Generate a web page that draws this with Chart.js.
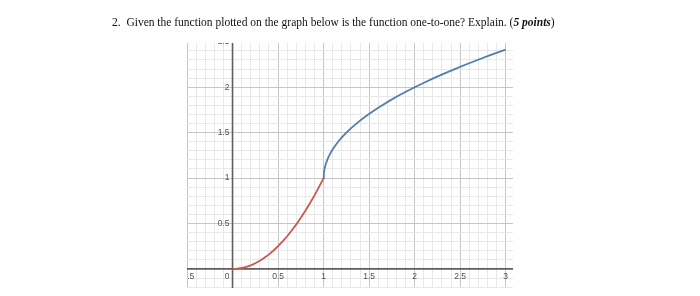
<!DOCTYPE html>
<html>
<head>
<meta charset="utf-8">
<script src="https://cdn.jsdelivr.net/npm/chart.js@4"></script>
<style>
  html, body { margin: 0; padding: 0; background: #fff; }
  #wrap { position: relative; width: 700px; height: 296px; }
  #title { position: absolute; left: 112px; top: 16px; font-family: "Liberation Serif", "Times New Roman", serif; font-size: 11.5px; color: #111; white-space: nowrap; }
  canvas { position: absolute; left: 0; top: 0; }
</style>
</head>
<body>
<div id="wrap">
  <canvas id="c" width="700" height="296"></canvas>
  <div id="title">2.&nbsp; Given the function plotted on the graph below is the function one-to-one? Explain. (<b><i>5 points</i></b>)</div>
</div>
<script>
// Red piece (0 <= x <= 1)
const redX = [0, 0.05, 0.1, 0.15, 0.2, 0.25, 0.3, 0.35, 0.4, 0.45, 0.5, 0.55, 0.6, 0.65, 0.7, 0.75, 0.8, 0.85, 0.9, 0.95, 1];
const redY = [0, 0.0025, 0.01, 0.0225, 0.04, 0.0625, 0.09, 0.1225, 0.16, 0.2025, 0.25, 0.3025, 0.36, 0.4225, 0.49, 0.5625, 0.64, 0.7225, 0.81, 0.9025, 1];
// Blue piece (1 <= x <= 3)
const blueX = [1, 1.0025, 1.01, 1.0225, 1.04, 1.0625, 1.09, 1.1225, 1.16, 1.2025, 1.25, 1.3025, 1.36, 1.4225, 1.49, 1.5625, 1.64, 1.7225, 1.81, 1.9025, 2, 2.1025, 2.21, 2.3225, 2.44, 2.5625, 2.69, 2.8225, 2.96, 3];
const blueY = [1, 1.05, 1.1, 1.15, 1.2, 1.25, 1.3, 1.35, 1.4, 1.45, 1.5, 1.55, 1.6, 1.65, 1.7, 1.75, 1.8, 1.85, 1.9, 1.95, 2, 2.05, 2.1, 2.15, 2.2, 2.25, 2.3, 2.35, 2.4, 2.414];
// Tick labels
const xTickValues = [-0.5, 0.5, 1, 1.5, 2, 2.5, 3];
const xTickLabels = ['-0.5', '0.5', '1', '1.5', '2', '2.5', '3'];
const yTickValues = [0.5, 1, 1.5, 2, 2.5];
const yTickLabels = ['0.5', '1', '1.5', '2', '2.5'];
const originLabel = '0';

const X_MIN = -0.5, X_MAX = 3.08, Y_MIN = -0.21, Y_MAX = 2.487;

function gridTicks(min, max) {
  const out = [];
  const start = Math.ceil(min * 10 - 1e-9), end = Math.floor(max * 10 + 1e-9);
  for (let i = start; i <= end; i++) out.push({ value: i / 10 });
  return out;
}
function isMajor(v) { return Math.abs(v * 2 - Math.round(v * 2)) < 1e-6; }
function gridColor(ctx) {
  const v = ctx.tick ? ctx.tick.value : null;
  if (v === null) return 'rgba(0,0,0,0)';
  return isMajor(v) ? '#c6c6c6' : '#e8e8e8';
}

const axisPlugin = {
  id: 'axisLines',
  beforeDatasetsDraw(chart) {
    const { ctx, chartArea, scales } = chart;
    const x0 = scales.x.getPixelForValue(0), y0 = scales.y.getPixelForValue(0);
    ctx.save();
    ctx.strokeStyle = '#5e5e5e';
    ctx.lineWidth = 1.6;
    ctx.beginPath();
    ctx.moveTo(x0, chartArea.top); ctx.lineTo(x0, chartArea.bottom);
    ctx.moveTo(chartArea.left, y0); ctx.lineTo(chartArea.right, y0);
    ctx.stroke();
    ctx.restore();
  }
};

const labelPlugin = {
  id: 'axisLabels',
  afterDraw(chart) {
    const { ctx, chartArea, scales } = chart;
    const xs = scales.x, ys = scales.y;
    const x0 = xs.getPixelForValue(0), y0 = ys.getPixelForValue(0);
    ctx.save();
    ctx.beginPath();
    ctx.rect(chartArea.left, chartArea.top, chartArea.right - chartArea.left, chartArea.bottom - chartArea.top);
    ctx.clip();
    ctx.font = '8.5px "Liberation Sans", Arial, sans-serif';
    ctx.fillStyle = '#505050';
    ctx.textAlign = 'center';
    ctx.textBaseline = 'middle';
    xTickValues.forEach((v, i) => {
      ctx.fillText(xTickLabels[i], xs.getPixelForValue(v), y0 + 8);
    });
    ctx.textAlign = 'right';
    yTickValues.forEach((v, i) => {
      ctx.fillText(yTickLabels[i], x0 - 3, ys.getPixelForValue(v));
    });
    ctx.fillText(originLabel, x0 - 3, y0 + 8);
    ctx.restore();
  }
};

new Chart(document.getElementById('c'), {
  type: 'scatter',
  data: {
    datasets: [
      { data: redX.map((x, i) => ({ x, y: redY[i] })), showLine: true, borderColor: '#c8584f', borderWidth: 1.8, pointRadius: 0, tension: 0 },
      { data: blueX.map((x, i) => ({ x, y: blueY[i] })), showLine: true, borderColor: '#4f7fb0', borderWidth: 1.8, pointRadius: 0, tension: 0 }
    ]
  },
  options: {
    responsive: false,
    animation: false,
    layout: { padding: { left: 187, right: 187, top: 43, bottom: 8 } },
    plugins: { legend: { display: false }, tooltip: { enabled: false } },
    scales: {
      x: {
        type: 'linear', min: X_MIN, max: X_MAX,
        afterBuildTicks(s) { s.ticks = gridTicks(X_MIN, X_MAX); },
        ticks: { display: false },
        border: { display: false },
        grid: { drawTicks: false, color: gridColor, lineWidth: 1 }
      },
      y: {
        type: 'linear', min: Y_MIN, max: Y_MAX,
        afterBuildTicks(s) { s.ticks = gridTicks(Y_MIN, Y_MAX); },
        ticks: { display: false },
        border: { display: false },
        grid: { drawTicks: false, color: gridColor, lineWidth: 1 }
      }
    }
  },
  plugins: [axisPlugin, labelPlugin]
});
</script>
</body>
</html>
